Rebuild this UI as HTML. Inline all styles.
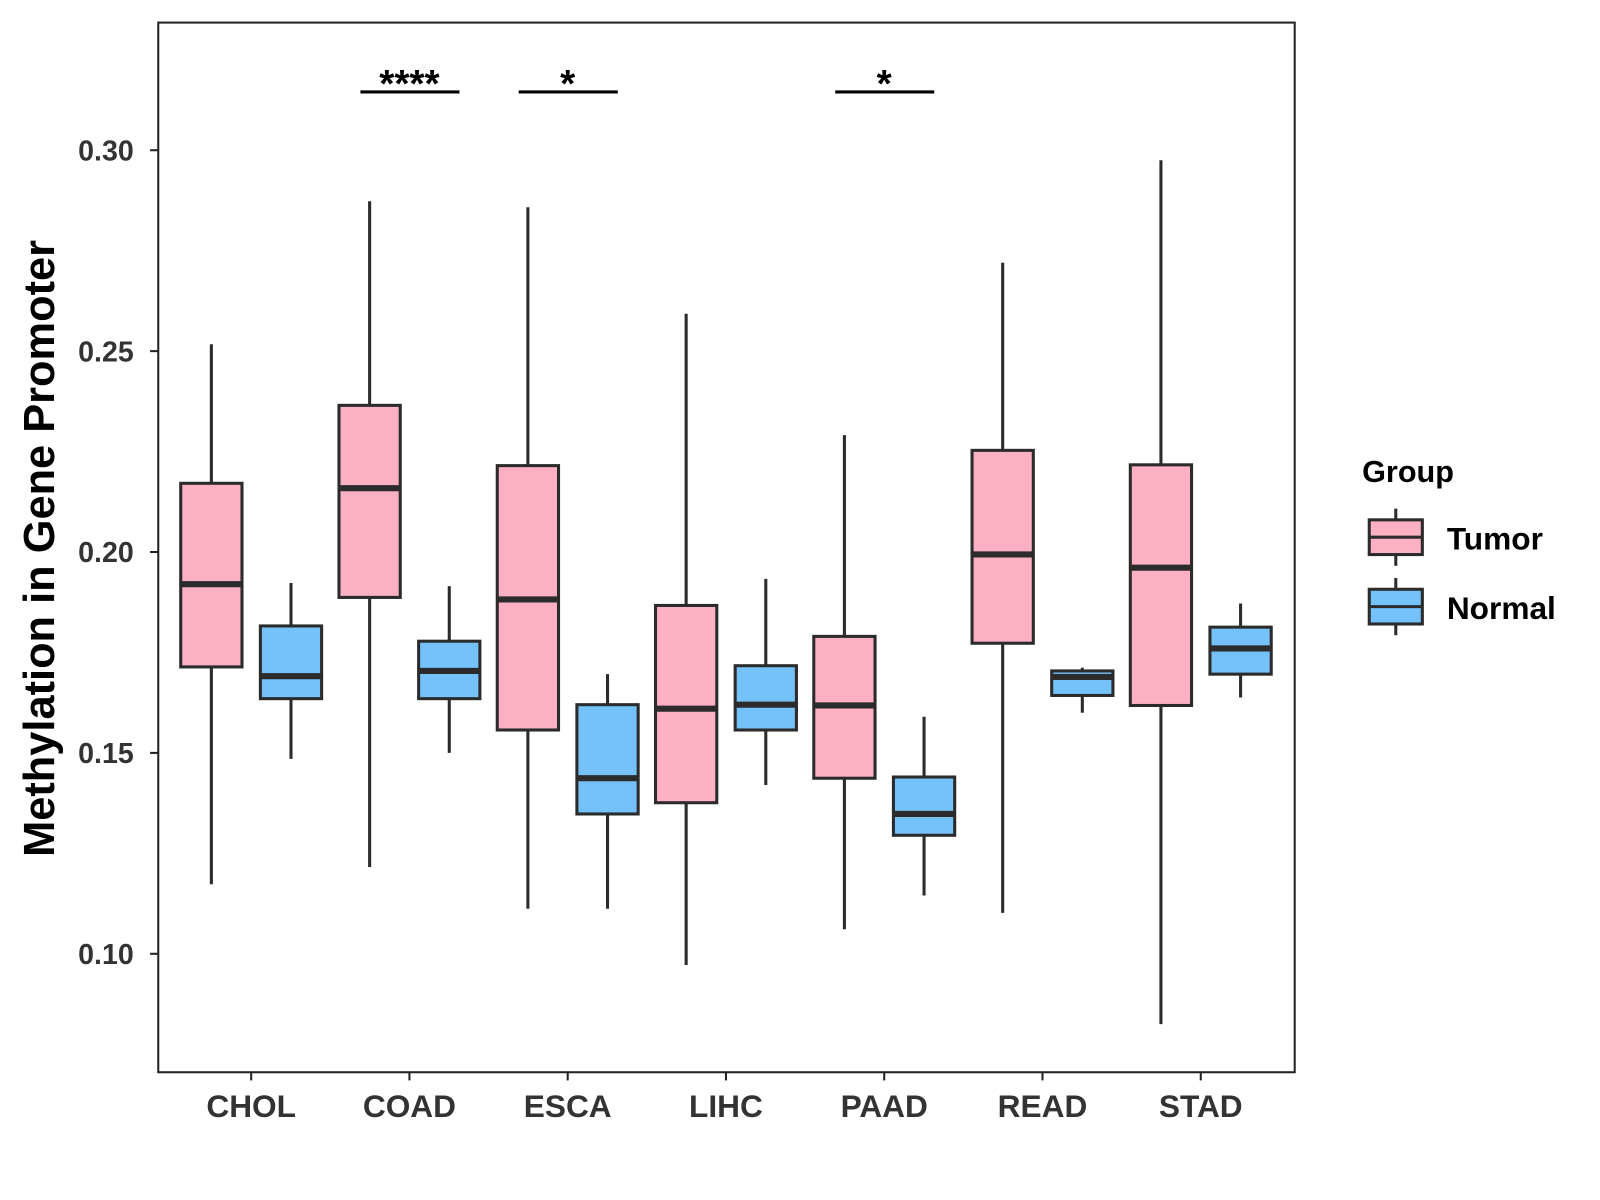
<!DOCTYPE html>
<html><head><meta charset="utf-8"><style>
html,body{margin:0;padding:0;background:#fff}
svg{display:block;font-family:"Liberation Sans",Arial,sans-serif}
</style></head><body>
<svg id="chart" width="1600" height="1200" viewBox="0 0 1567 1175">
<rect x="155" y="22" width="1113" height="1028" fill="#fff" stroke="#222" stroke-width="2"/>
<g id="marks"></g>
<text transform="translate(53,537) rotate(-90)" text-anchor="middle" font-size="42.5" font-weight="bold" fill="#000">Methylation in Gene Promoter</text>
<g>
<text x="1334" y="472" font-size="30" font-weight="bold" fill="#000">Group</text>
<g>
<line x1="1367" y1="498" x2="1367" y2="554" stroke="#2b2b2b" stroke-width="3"/>
<rect x="1341" y="509" width="52" height="34" fill="#FCB0C3" stroke="#2b2b2b" stroke-width="3"/>
<line x1="1341" y1="526" x2="1393" y2="526" stroke="#2b2b2b" stroke-width="3"/>
<text x="1417" y="538" font-size="31" font-weight="bold" fill="#000">Tumor</text></g>
<g>
<line x1="1367" y1="566" x2="1367" y2="622" stroke="#2b2b2b" stroke-width="3"/>
<rect x="1341" y="577" width="52" height="34" fill="#75C1FA" stroke="#2b2b2b" stroke-width="3"/>
<line x1="1341" y1="594" x2="1393" y2="594" stroke="#2b2b2b" stroke-width="3"/>
<text x="1417" y="606" font-size="31" font-weight="bold" fill="#000">Normal</text></g>
</g>
</svg>
<script>
const categories=["CHOL","COAD","ESCA","LIHC","PAAD","READ","STAD"];
const tumorLow=[0.1173,0.1216,0.1112,0.0972,0.1061,0.1102,0.0825];
const tumorQ1=[0.1714,0.1887,0.1557,0.1376,0.1437,0.1773,0.1618];
const tumorMed=[0.192,0.2159,0.1882,0.161,0.1618,0.1994,0.1961];
const tumorQ3=[0.2171,0.2365,0.2215,0.1867,0.179,0.2253,0.2217];
const tumorHigh=[0.2517,0.2873,0.2858,0.2593,0.2291,0.272,0.2975];
const normalLow=[0.1485,0.150,0.1112,0.142,0.1145,0.160,0.1638];
const normalQ1=[0.1635,0.1635,0.1348,0.1557,0.1295,0.1643,0.1696];
const normalMed=[0.1691,0.1704,0.1437,0.162,0.1348,0.1689,0.176];
const normalQ3=[0.1816,0.1778,0.162,0.1717,0.144,0.1704,0.1813];
const normalHigh=[0.1923,0.1915,0.1696,0.1933,0.159,0.1712,0.1872];
const yTicks=[0.10,0.15,0.20,0.25,0.30];
const sigCats=["COAD","ESCA","PAAD"];
const sigLabels=["****","*","*"];
const sigValue=0.3145;

const NS="http://www.w3.org/2000/svg";
const y=v=>147+(0.30-v)*3935;
const x=i=>246+i*155;
const g=document.getElementById('marks');
function mk(t,a,p){const e=document.createElementNS(NS,t);for(const k in a)e.setAttribute(k,a[k]);(p||g).appendChild(e);return e;}
yTicks.forEach(t=>{
 const tk=mk('line',{x1:147,x2:155,y1:y(t),y2:y(t),stroke:'#222','stroke-width':2});
 
 
 const lb=mk('text',{x:131,y:y(t)+10,'text-anchor':'end','font-size':28,'font-weight':'bold',fill:'#333'});
 lb.textContent=t.toFixed(2);
 
 
});
categories.forEach((c,i)=>{
 const tk=mk('line',{x1:x(i),x2:x(i),y1:1050,y2:1058,stroke:'#222','stroke-width':2});
 
 
 const lb=mk('text',{x:x(i),y:1094,'text-anchor':'middle','font-size':31,'font-weight':'bold',fill:'#333'});
 lb.textContent=c;
 
 
 [[-39,tumorLow,tumorQ1,tumorMed,tumorQ3,tumorHigh,'#FCB0C3','tumor'],[39,normalLow,normalQ1,normalMed,normalQ3,normalHigh,'#75C1FA','normal']].forEach(s=>{
  const cx=x(i)+s[0];
  const bg=mk('g',{});
  
  
  mk('line',{x1:cx,x2:cx,y1:y(s[5][i]),y2:y(s[1][i]),stroke:'#2b2b2b','stroke-width':3},bg);
  mk('rect',{x:cx-30,y:y(s[4][i]),width:60,height:y(s[2][i])-y(s[4][i]),fill:s[6],stroke:'#2b2b2b','stroke-width':3},bg);
  mk('line',{x1:cx-30,x2:cx+30,y1:y(s[3][i]),y2:y(s[3][i]),stroke:'#2b2b2b','stroke-width':6},bg);
 });
});
sigCats.forEach((c,k)=>{
 const i=categories.indexOf(c);
 const l=mk('line',{x1:x(i)-48,x2:x(i)+49,y1:y(sigValue),y2:y(sigValue),stroke:'#000','stroke-width':3});
 
 
 const t=mk('text',{x:x(i),y:y(sigValue)+5,'text-anchor':'middle','font-size':38,'font-weight':'bold',fill:'#000'});
 t.textContent=sigLabels[k];
 
 
});
</script>
</body></html>
